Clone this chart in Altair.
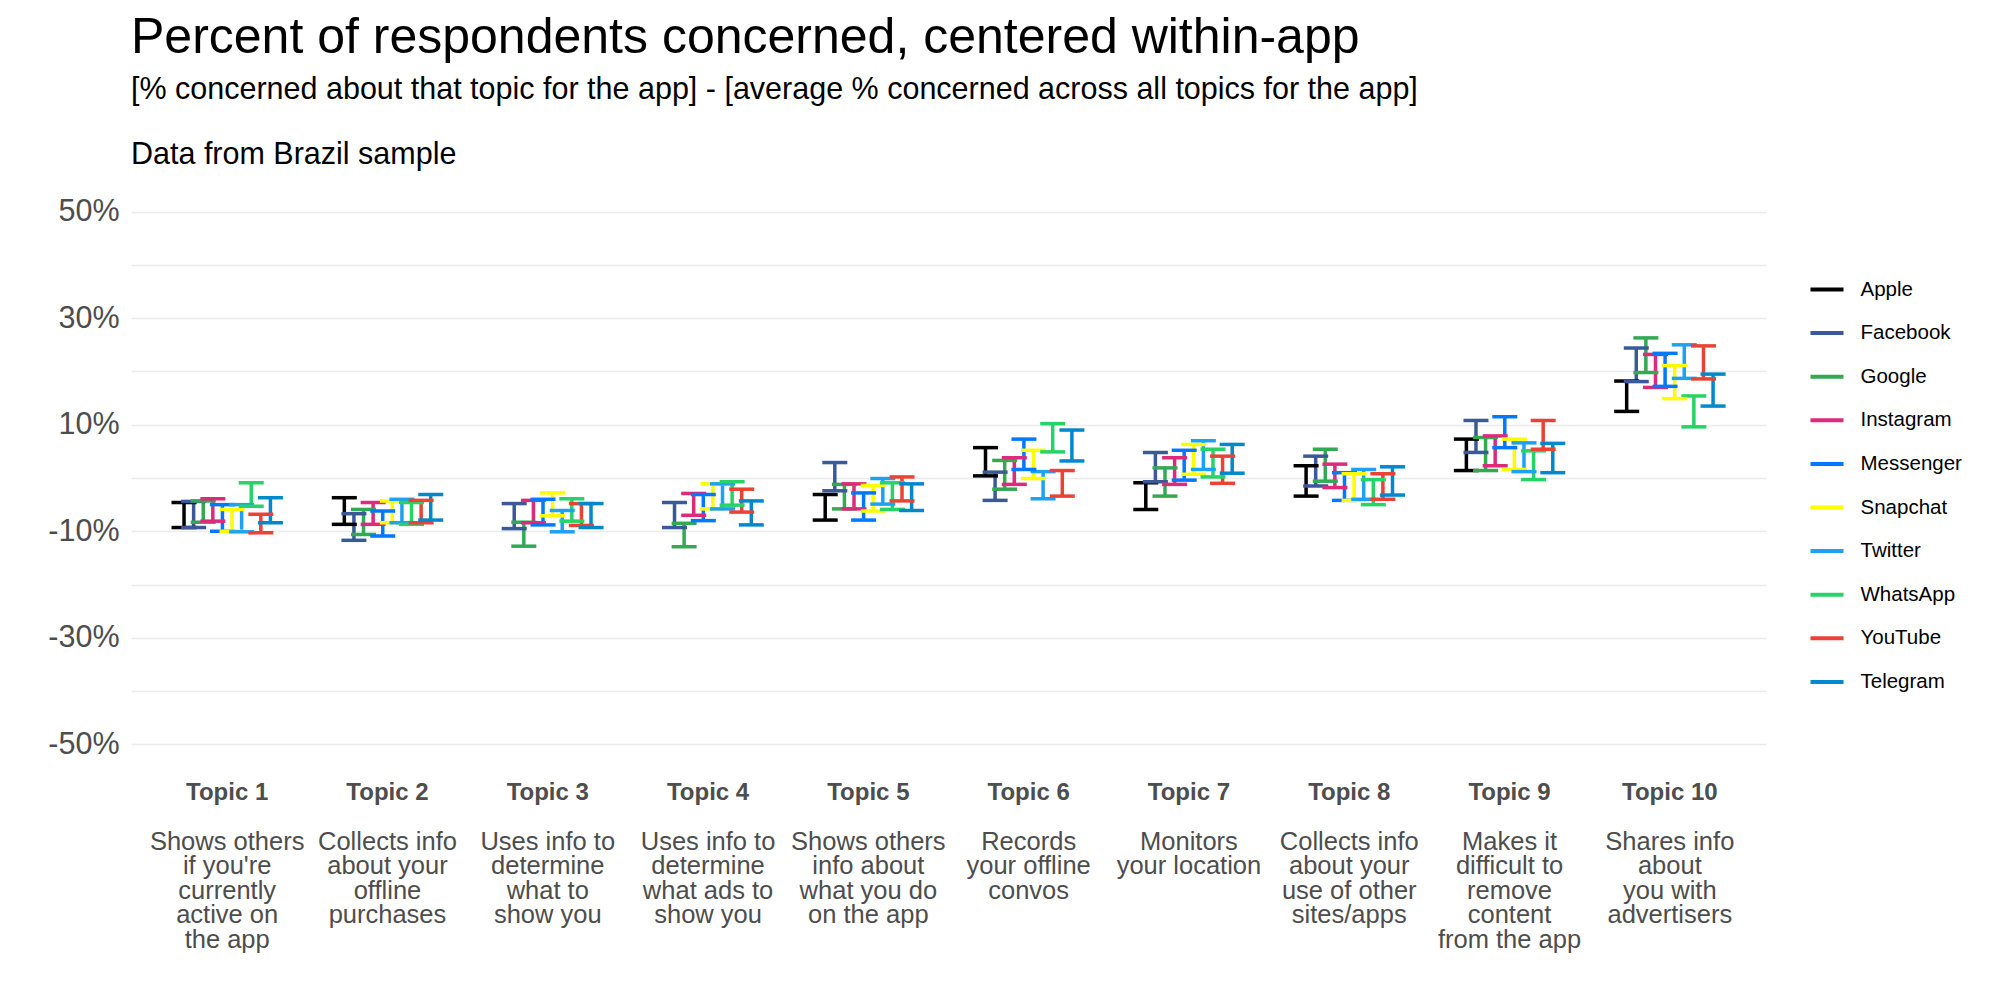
import altair as alt
import pandas as pd

# ---------------- data ----------------
topics = ["Topic 1", "Topic 2", "Topic 3", "Topic 4", "Topic 5",
          "Topic 6", "Topic 7", "Topic 8", "Topic 9", "Topic 10"]
descriptions = [
    ["Shows others", "if you're", "currently", "active on", "the app"],
    ["Collects info", "about your", "offline", "purchases"],
    ["Uses info to", "determine", "what to", "show you"],
    ["Uses info to", "determine", "what ads to", "show you"],
    ["Shows others", "info about", "what you do", "on the app"],
    ["Records", "your offline", "convos"],
    ["Monitors", "your location"],
    ["Collects info", "about your", "use of other", "sites/apps"],
    ["Makes it", "difficult to", "remove", "content", "from the app"],
    ["Shares info", "about", "you with", "advertisers"],
]
apps = ["Apple", "Facebook", "Google", "Instagram", "Messenger",
        "Snapchat", "Twitter", "WhatsApp", "YouTube", "Telegram"]
app_colors = ["#000000", "#3B5998", "#34A853", "#DD2A7B", "#0078FF",
              "#FFFC00", "#1DA1F2", "#25D366", "#EA4335", "#0088CC"]

# upper / lower ends of each error bar (percentage points), one value per topic
apple_high = [-4.6, -3.7, None, None, -3.1, 5.7, -0.9, 2.3, 7.3, 18.2]
apple_low = [-9.3, -8.7, None, None, -7.9, 0.4, -5.9, -3.4, 1.4, 12.5]
facebook_high = [-4.4, -6.7, -4.8, -4.6, 2.9, 1.1, 4.8, 4.1, 10.8, 24.4]
facebook_low = [-9.3, -11.7, -9.5, -9.3, -2.4, -4.2, -0.7, -1.5, 4.8, 18.1]
google_high = [-4.3, -5.9, -8.3, -8.5, -1.2, 3.3, 1.9, 5.4, 7.6, 26.3]
google_low = [-8.3, -10.6, -12.8, -12.9, -5.8, -2.1, -3.4, -0.6, 1.4, 19.8]
instagram_high = [-3.9, -4.6, -4.2, -2.9, -1.1, 3.8, 3.8, 2.6, 7.9, 23.2]
instagram_low = [-8.1, -8.7, -8.4, -7.0, -5.8, -1.2, -1.2, -1.8, 2.3, 17.0]
messenger_high = [-5.0, -6.2, -4.0, -3.1, -2.8, 7.3, 5.2, 1.0, 11.5, 23.4]
messenger_low = [-10.0, -10.9, -8.8, -8.0, -7.9, 1.6, -0.4, -4.2, 5.7, 17.2]
snapchat_high = [-5.9, -4.3, -2.8, -1.1, -1.4, 5.2, 6.3, 0.8, 7.3, 21.1]
snapchat_low = [-10.0, -8.4, -7.1, -5.8, -6.2, -0.1, 0.7, -4.2, 1.6, 14.9]
twitter_high = [-5.0, -4.0, -6.1, -1.1, -0.1, 1.2, 7.0, 1.6, 6.6, 25.0]
twitter_low = [-10.1, -8.4, -10.1, -5.8, -4.9, -3.9, 1.6, -4.0, 1.2, 18.7]
whatsapp_high = [-0.9, -4.6, -3.9, -0.7, -0.9, 10.2, 5.4, -0.3, 5.1, 15.4]
whatsapp_low = [-5.3, -8.7, -8.1, -5.1, -5.9, 4.9, 0.2, -5.0, -0.3, 9.6]
youtube_high = [-6.8, -4.2, -4.8, -2.1, 0.2, 1.4, 4.1, 0.8, 10.8, 24.8]
youtube_low = [-10.3, -8.4, -8.9, -6.4, -4.3, -3.4, -1.0, -4.0, 5.4, 18.6]
telegram_high = [-3.7, -3.1, -4.8, -4.3, -1.1, 9.0, 6.3, 2.1, 6.5, 19.5]
telegram_low = [-8.4, -7.9, -9.3, -8.8, -6.1, 3.2, 0.9, -3.2, 1.0, 13.5]

highs = [apple_high, facebook_high, google_high, instagram_high, messenger_high,
         snapchat_high, twitter_high, whatsapp_high, youtube_high, telegram_high]
lows = [apple_low, facebook_low, google_low, instagram_low, messenger_low,
        snapchat_low, twitter_low, whatsapp_low, youtube_low, telegram_low]

title_text = "Percent of respondents concerned, centered within-app"
subtitle_lines = ["[% concerned about that topic for the app] - [average % concerned across all topics for the app]",
                  "Data from Brazil sample"]

# ---------------- tables ----------------
keys = [t + "|" + "|".join(d) for t, d in zip(topics, descriptions)]
rows = []
for app, hi_list, lo_list in zip(apps, highs, lows):
    for k, hi, lo in zip(keys, hi_list, lo_list):
        if hi is None or lo is None:
            continue
        rows.append({"key": k, "app": app, "high": hi, "low": lo})
df = pd.DataFrame(rows)
topics_df = pd.DataFrame({"key": keys})

FONT = "Liberation Sans"
GREY = "#4D4D4D"

x_scale = alt.Scale(domain=keys, paddingInner=0, paddingOuter=0.1)
x_topic_axis = alt.Axis(title=None, orient="bottom", labelExpr="split(datum.label, '|')[0]",
                        labelFontWeight="bold", labelFontSize=24, labelColor=GREY,
                        labelPadding=9, ticks=False, domain=False, grid=False,
                        labelAngle=0, labelFont=FONT)
x_desc_axis = alt.Axis(title=None, orient="bottom", labelExpr="slice(split(datum.label, '|'), 1)",
                       labelFontSize=25.5, labelColor=GREY, labelLineHeight=24.5,
                       labelPadding=58, ticks=False, domain=False, grid=False,
                       labelAngle=0, labelFont=FONT)
y_vals = [-50, -40, -30, -20, -10, 0, 10, 20, 30, 40, 50]
y_scale = alt.Scale(domain=[-55, 55], nice=False, zero=False)
y_axis = alt.Axis(title=None, values=y_vals,
                  labelExpr="datum.value % 20 != 0 ? datum.value + '%' : ''",
                  labelFontSize=30.5, labelColor=GREY, labelPadding=12, labelFont=FONT,
                  ticks=False, domain=False, grid=True, gridColor="#EBEBEB", gridWidth=1.5)
x_off = alt.XOffset("app:N", sort=apps,
                    scale=alt.Scale(domain=apps, range=[32.2, 128.2], paddingOuter=0, paddingInner=0))
color = alt.Color("app:N", sort=apps,
                  scale=alt.Scale(domain=apps, range=app_colors),
                  legend=alt.Legend(title=None, orient="none", legendX=1677.5, legendY=86,
                                    symbolType="stroke", symbolStrokeWidth=4, symbolSize=1089,
                                    symbolOpacity=1,
                                    labelFontSize=20.5, labelColor="black", labelFont=FONT,
                                    labelOffset=15, rowPadding=14.6))

base = alt.Chart(df)
rules = base.mark_rule(strokeWidth=3.5, opacity=1).encode(
    x=alt.X("key:N", sort=keys, scale=x_scale, axis=x_topic_axis),
    xOffset=x_off,
    y=alt.Y("high:Q", scale=y_scale, axis=y_axis),
    y2="low:Q",
    color=color,
)
caps_high = base.mark_tick(size=25, thickness=3.5, opacity=1).encode(
    x=alt.X("key:N", sort=keys, scale=x_scale, axis=x_topic_axis),
    xOffset=x_off,
    y=alt.Y("high:Q", scale=y_scale, axis=y_axis),
    color=color,
)
caps_low = base.mark_tick(size=25, thickness=3.5, opacity=1).encode(
    x=alt.X("key:N", sort=keys, scale=x_scale, axis=x_topic_axis),
    xOffset=x_off,
    y=alt.Y("low:Q", scale=y_scale, axis=y_axis),
    color=color,
)
bars = alt.layer(rules, caps_high, caps_low)

desc = alt.Chart(topics_df).mark_point(opacity=0).encode(
    x=alt.X("key:N", sort=keys, scale=x_scale, axis=x_desc_axis),
)

chart = alt.layer(bars, desc).resolve_axis(x="independent").properties(
    width=1635, height=586,
    padding={"left": 39, "top": 4, "right": 5, "bottom": 5},
    title=alt.Title(text=title_text, subtitle=subtitle_lines, anchor="start", frame="group",
                    fontSize=50, fontWeight="normal", font=FONT, color="black",
                    subtitleFontSize=30.5, subtitleFont=FONT, subtitleColor="black",
                    subtitleLineHeight=65, subtitlePadding=12, offset=15),
).configure(font=FONT).configure_view(stroke="transparent", strokeWidth=0)

chart.save("out.html", embed_options={"renderer": "svg", "actions": False})
